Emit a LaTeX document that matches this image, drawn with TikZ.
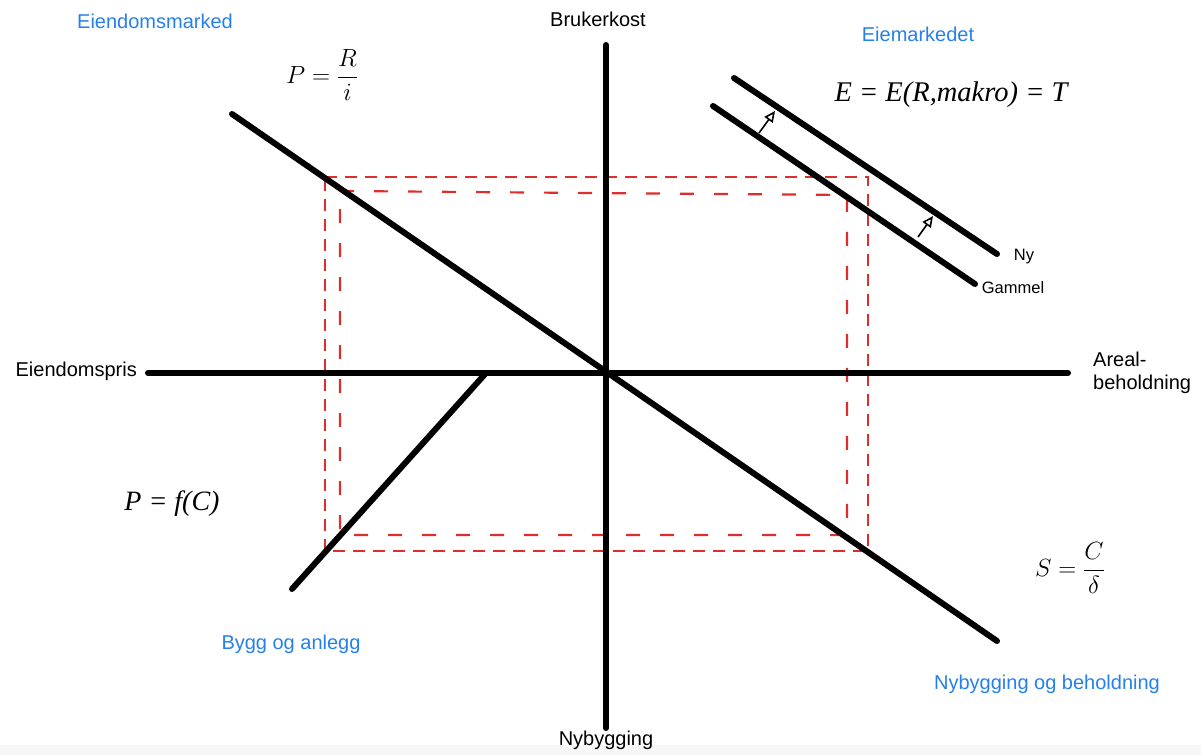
\documentclass[tikz,border=0pt]{standalone}
\usepackage{fontspec}
\setmainfont{Liberation Sans}
\newfontfamily\timesit{Liberation Serif}[ItalicFont=* Italic]
\usetikzlibrary{arrows.meta}
\definecolor{lblblue}{RGB}{38,128,235}
\definecolor{dashred}{RGB}{222,45,45}
\tikzset{
  axis/.style={line width=6pt, line cap=round},
  curve/.style={line width=6pt, line cap=round},
  shiftarrow/.style={line width=1.6pt, -{Triangle[open,length=11pt,width=10pt]}},
  outerbox/.style={dashred, line width=2.2pt, dash pattern=on 12pt off 8pt},
  innerbox/.style={dashred, line width=2.2pt, dash pattern=on 14pt off 20pt},
  lbl/.style={font=\fontsize{20}{24}\selectfont, inner sep=0pt},
  bluelbl/.style={lbl, text=lblblue},
  smalllbl/.style={font=\fontsize{16.5}{20}\selectfont, inner sep=0pt},
}
\begin{document}
\begin{tikzpicture}[x=1pt,y=-1pt]
\useasboundingbox (0,0) rectangle (1201,755);
\fill[black!3] (0,745) rectangle (1201,755);

% axis endpoints
\coordinate (vt) at (606,45);
\coordinate (vb) at (606,728);
\coordinate (hl) at (148,373);
\coordinate (hr) at (1068,373);
\coordinate (dA) at (232,114);
\coordinate (dB) at (997,641);
\coordinate (bA) at (486,373);
\coordinate (bB) at (292,589);
\coordinate (nyA) at (734,78);
\coordinate (nyB) at (997,254);
\coordinate (gaA) at (713,106);
\coordinate (gaB) at (975,284);

% dashed rectangles
\coordinate (o1) at (325,177);
\coordinate (o2) at (868,177);
\coordinate (o3) at (868,551);
\coordinate (o4) at (325,551);
\coordinate (i1) at (340,191);
\coordinate (i2) at (847,195);
\coordinate (i3) at (847,535);
\coordinate (i4) at (340,535);
\draw[outerbox] (o1) -- (o2) -- (o3) -- (o4) -- cycle;
\draw[innerbox] (i1) -- (i2) -- (i3) -- (i4) -- cycle;

% axes and curves
\draw[axis] (vt) -- (vb);
\draw[axis] (hl) -- (hr);
\draw[curve] (dA) -- (dB);
\draw[curve] (bA) -- (bB);
\draw[curve] (nyA) -- (nyB);
\draw[curve] (gaA) -- (gaB);

% shift arrows
\coordinate (s1a) at (759,133);
\coordinate (s1b) at (775,111);
\coordinate (s2a) at (918,237);
\coordinate (s2b) at (933,216);
\draw[shiftarrow] (s1a) -- (s1b);
\draw[shiftarrow] (s2a) -- (s2b);

% labels
\node[bluelbl] (eiendomsmarked) at (155,21) {Eiendomsmarked};
\node[lbl] (brukerkost) at (598,19) {Brukerkost};
\node[bluelbl] (eiemarkedet) at (918,34) {Eiemarkedet};
\node[lbl, anchor=east] (eiendomspris) at (137,371) {Eiendomspris};
\node[lbl, anchor=west, align=left, font=\fontsize{20}{23.5}\selectfont] (areal) at (1093,373) {Areal-\\beholdning};
\node[smalllbl] (ny) at (1024,257) {Ny};
\node[smalllbl] (gammel) at (1013,288) {Gammel};
\node[bluelbl] (bygg) at (291,644) {Bygg og anlegg};
\node[bluelbl] (nybeh) at (1047,684) {Nybygging og beholdning};
\node[lbl] (nybygging) at (606,740) {Nybygging};

% formulas
\node[inner sep=0pt, font=\fontsize{25}{30}\selectfont] (fpr) at (322,75) {$\displaystyle P=\frac{R}{i}$};
\node[inner sep=0pt, font=\fontsize{28.5}{32}\timesit\itshape] (fe) at (951,95) {E = E(R,makro) = T};
\node[inner sep=0pt, font=\fontsize{28}{32}\timesit\itshape] (fpf) at (172,504) {P = f(C)};
\node[inner sep=0pt, font=\fontsize{25}{30}\selectfont] (fs) at (1070,568) {$\displaystyle S=\frac{C}{\delta}$};
\end{tikzpicture}
\end{document}
